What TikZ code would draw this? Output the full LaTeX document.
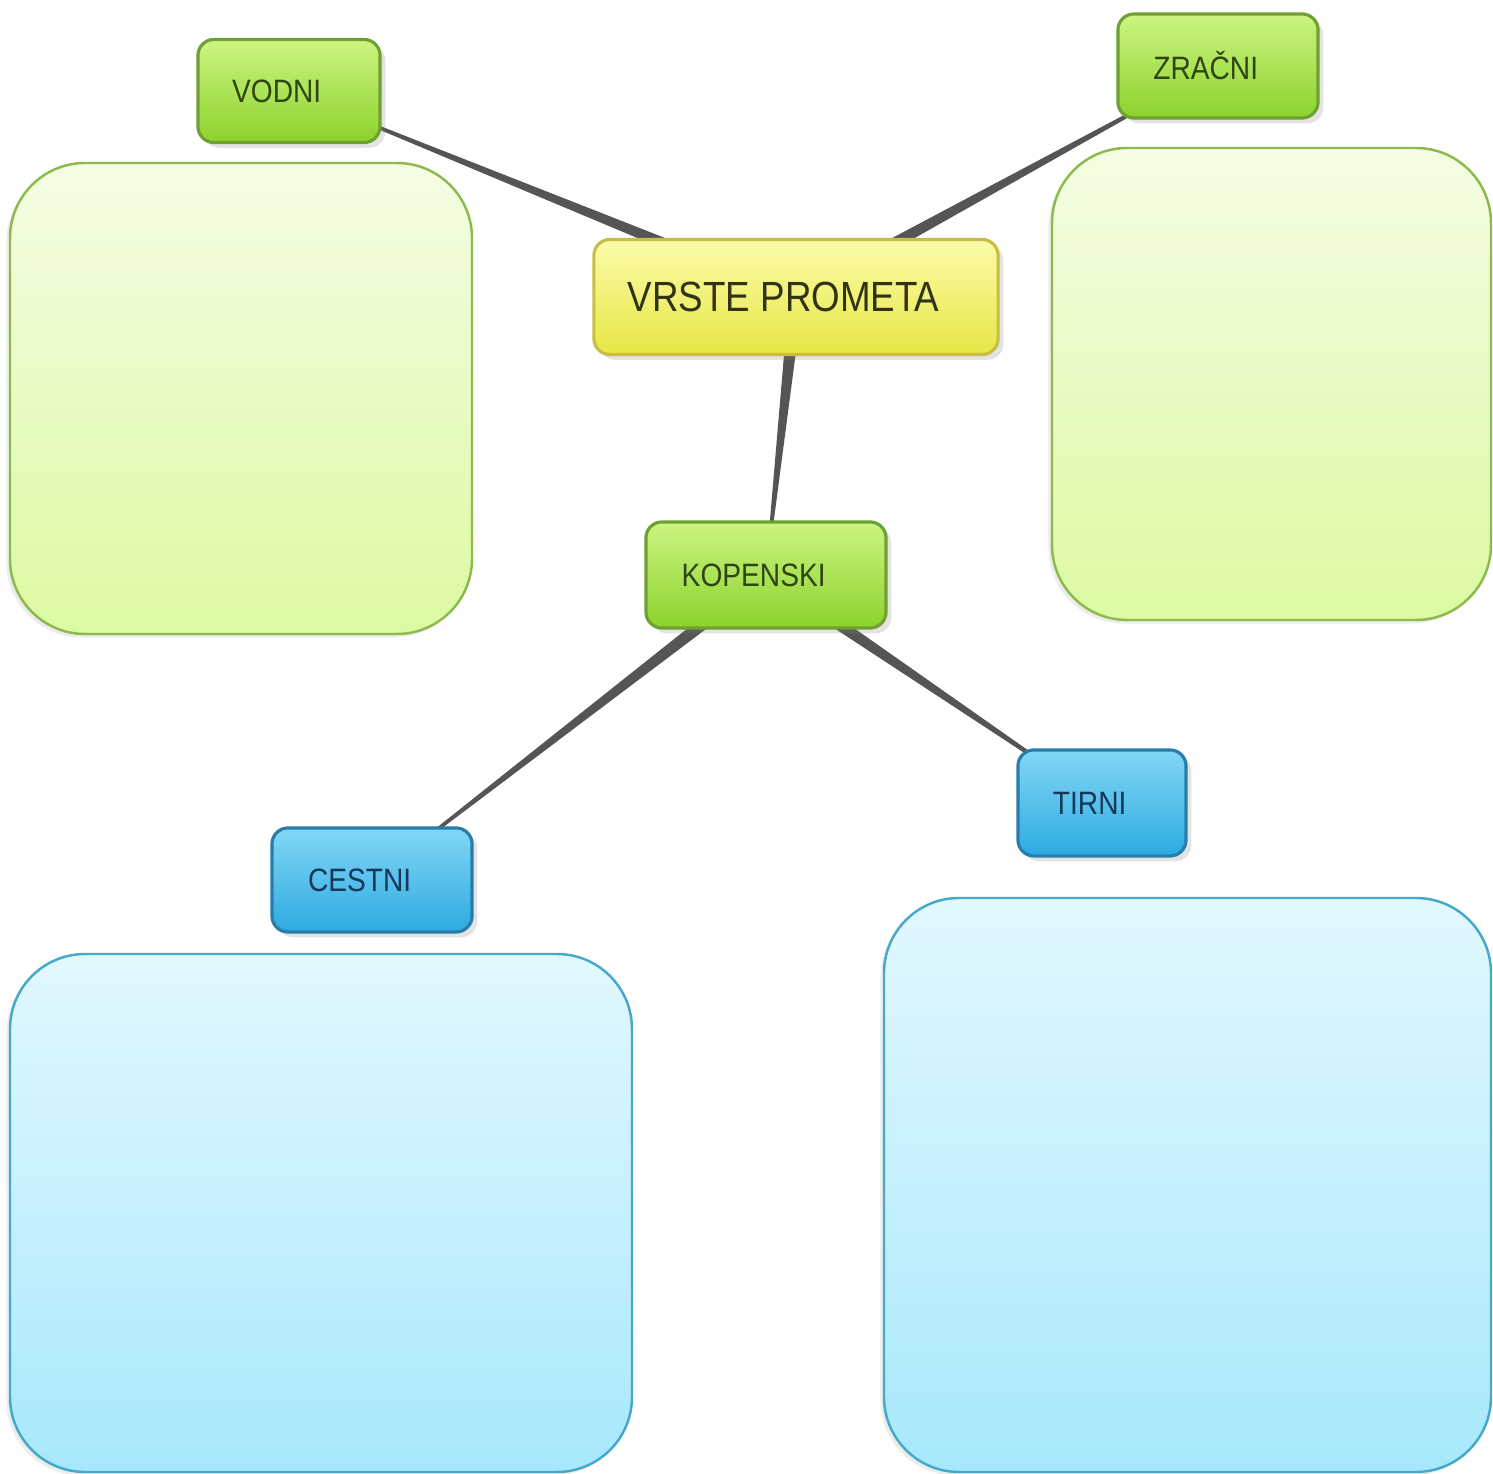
\documentclass[tikz,border=0pt]{standalone}
\usepackage{fontspec}
\setmainfont{Liberation Sans}[FakeStretch=0.87]
\usetikzlibrary{calc,shadows,backgrounds}
\definecolor{linkgray}{HTML}{555555}
\definecolor{padgreen}{HTML}{8DBA4C}
\definecolor{padblue}{HTML}{45A9C9}
\definecolor{topicline}{RGB}{200,190,70}
\definecolor{topictop}{RGB}{252,252,170}
\definecolor{topicbot}{RGB}{230,230,70}
\definecolor{topictext}{RGB}{50,50,20}
\definecolor{modeline}{RGB}{110,160,50}
\definecolor{modetop}{RGB}{205,244,130}
\definecolor{modebot}{RGB}{140,210,45}
\definecolor{modetext}{RGB}{45,70,15}
\definecolor{landline}{RGB}{40,125,170}
\definecolor{landtop}{RGB}{130,215,245}
\definecolor{landbot}{RGB}{45,170,225}
\definecolor{landtext}{RGB}{20,55,90}
\newcommand{\taper}[2]{\fill[linkgray] ($(#1)!2pt!90:(#2)$) -- ($(#2)!.2pt!-90:(#1)$)
  -- ($(#2)!.2pt!90:(#1)$) -- ($(#1)!2pt!-90:(#2)$) -- cycle;}
\begin{document}
\begin{tikzpicture}[x=0.01cm,y=-0.01cm,
  box/.style={rounded corners=.16cm,line width=.9pt,inner sep=0pt,
    execute at end node=\hspace*{7pt},
    drop shadow={opacity=.22,shadow xshift=1.5pt,shadow yshift=-1.5pt}},
  topic/.style={box,draw=topicline,top color=topictop,bottom color=topicbot,
    text=topictext,font=\fontsize{12}{14}\selectfont},
  mode/.style={box,draw=modeline,top color=modetop,bottom color=modebot,
    text=modetext,font=\fontsize{9.2}{11}\selectfont},
  land/.style={box,draw=landline,top color=landtop,bottom color=landbot,
    text=landtext,font=\fontsize{9.2}{11}\selectfont},
  greenpad/.style={rounded corners=.75cm,draw=padgreen,line width=.7pt,
    top color={rgb,255:red,244;green,253;blue,228},bottom color={rgb,255:red,220;green,250;blue,162},
    drop shadow={opacity=.15,shadow xshift=-1pt,shadow yshift=-1pt}},
  bluepad/.style={rounded corners=.75cm,draw=padblue,line width=.7pt,
    top color={rgb,255:red,226;green,248;blue,255},bottom color={rgb,255:red,168;green,232;blue,252},
    drop shadow={opacity=.15,shadow xshift=-1pt,shadow yshift=-1pt}}]
\useasboundingbox (0,0) rectangle (1493,1474);
\draw[greenpad](10,163) rectangle (472,634);
\draw[greenpad](1052,148) rectangle (1491,620);
\draw[bluepad](10,954) rectangle (632,1472);
\draw[bluepad](884,898) rectangle (1491,1472);

\node[topic,minimum width=4.04cm,minimum height=1.15cm](vrste) at (796,297){VRSTE PROMETA};
\node[mode,minimum width=1.82cm,minimum height=1.03cm](vodni) at (289,91){VODNI};
\node[mode,minimum width=2cm,minimum height=1.04cm](zracni) at (1218,66){ZRAČNI};
\node[mode,minimum width=2.4cm,minimum height=1.06cm](kopenski) at (766,575){KOPENSKI};
\node[land,minimum width=2cm,minimum height=1.04cm](cestni) at (372,880){CESTNI};
\node[land,minimum width=1.68cm,minimum height=1.06cm](tirni) at (1102,803){TIRNI};

\begin{scope}[on background layer]
\taper{vrste}{vodni}
\taper{vrste}{zracni}
\taper{vrste}{kopenski}
\taper{kopenski}{cestni}
\taper{kopenski}{tirni}
\end{scope}
\end{tikzpicture}
\end{document}
